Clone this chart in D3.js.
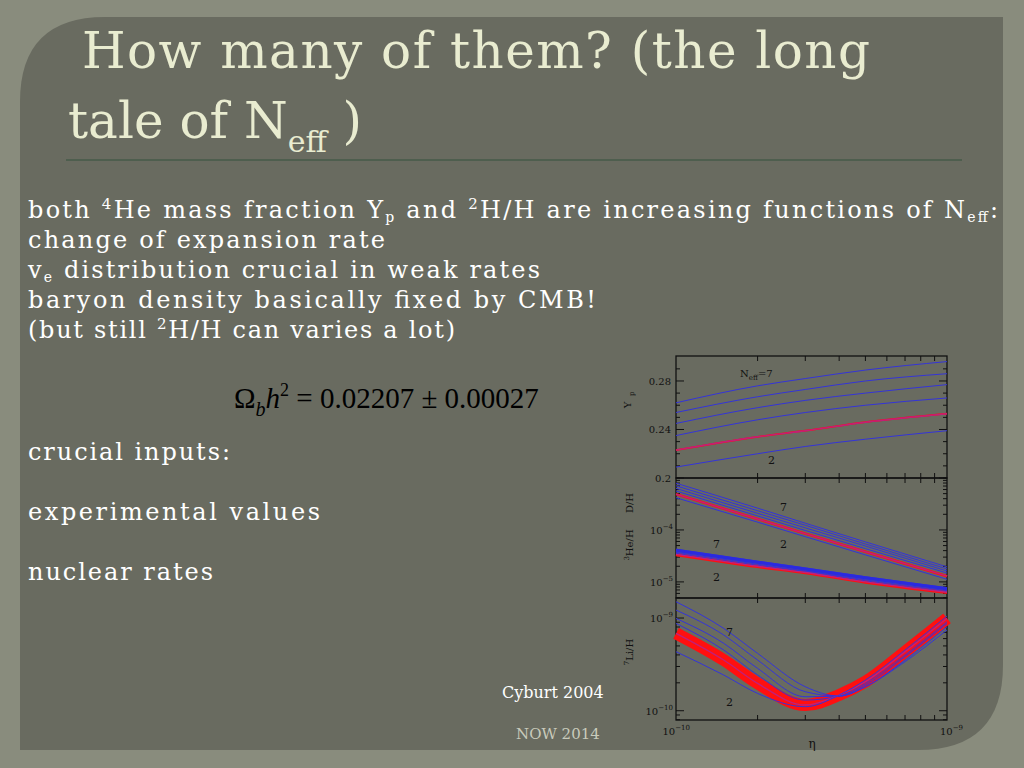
<!DOCTYPE html>
<html><head><meta charset="utf-8">
<script src="https://cdn.jsdelivr.net/npm/d3@7"></script>
<style>body{margin:0;background:#898c7d}svg{display:block}</style>
</head><body><svg id="c" width="1024" height="768"></svg>
<script>
const etas=[1,2,3,5,10];
const neffLabels=[7,6,5,4,3,2];
const yp=[[0.262,0.276,0.282,0.289,0.296],[0.254,0.267,0.273,0.280,0.286],[0.245,0.258,0.264,0.270,0.277],[0.235,0.248,0.254,0.260,0.266],[0.223,0.234,0.239,0.246,0.253],[0.209,0.220,0.226,0.232,0.239]];
const dhLog=[[-3.10,-3.58,-3.87,-4.23,-4.71],[-3.15,-3.63,-3.91,-4.27,-4.75],[-3.20,-3.68,-3.96,-4.31,-4.79],[-3.25,-3.73,-4.01,-4.36,-4.83],[-3.31,-3.79,-4.07,-4.42,-4.89],[-3.38,-3.85,-4.13,-4.48,-4.95]];
const he3Log=[[-4.37,-4.60,-4.73,-4.90,-5.11],[-4.39,-4.62,-4.75,-4.92,-5.13],[-4.41,-4.64,-4.77,-4.94,-5.15],[-4.43,-4.66,-4.79,-4.96,-5.17],[-4.45,-4.68,-4.80,-4.98,-5.19],[-4.47,-4.70,-4.82,-5.00,-5.20]];
const liEtas=[1,1.5,2,3,4,5,7,10];
const liLog=[[-8.824,-9.112,-9.381,-9.741,-9.842,-9.741,-9.471,-9.129],[-8.914,-9.183,-9.453,-9.795,-9.842,-9.741,-9.453,-9.094],[-9.004,-9.273,-9.543,-9.849,-9.842,-9.723,-9.417,-9.058],[-9.058,-9.345,-9.615,-9.885,-9.842,-9.705,-9.399,-9.040],[-9.165,-9.453,-9.705,-9.939,-9.831,-9.687,-9.363,-9.004],[-9.363,-9.615,-9.813,-9.957,-9.831,-9.669,-9.345,-8.978]];

const svg=d3.select("#c");
const p=d3.path();const L=20,T=17,R=1003,B=750,r=85;
p.moveTo(L+r,T);p.lineTo(R,T);p.lineTo(R,B-r);p.quadraticCurveTo(R,B,R-r,B);p.lineTo(L,B);p.lineTo(L,T+r);p.quadraticCurveTo(L,T,L+r,T);p.closePath();
svg.append("path").attr("d",p.toString()).attr("fill","#696b60");
const tf="'DejaVu Serif',serif";
const title=svg.append("g").attr("fill","#e9ecd0").style("font-family",tf).style("font-size","50px");
title.append("text").attr("x",82).attr("y",68).attr("textLength",788).attr("lengthAdjust","spacing").text("How many of  them? (the long");
const t2=title.append("text").attr("x",68).attr("y",138);
t2.append("tspan").text("tale of N");t2.append("tspan").attr("dy",14).style("font-size","30px").text("eff");t2.append("tspan").attr("dy",-14).text(" )");
svg.append("line").attr("x1",66).attr("x2",962).attr("y1",160).attr("y2",160).attr("stroke","#4e5e4e").attr("stroke-width",2);

const bf="'Liberation Serif','DejaVu Serif',serif";
const body=svg.append("g").attr("fill","#fff").style("font-family",tf).style("font-size","24px");
function line(y,w,parts){const t=body.append("text").attr("x",28).attr("y",y).attr("textLength",w).attr("lengthAdjust","spacing");parts.forEach(([s,k])=>{const ts=t.append("tspan").text(s);if(k==="sup")ts.attr("baseline-shift","super").style("font-size","15px");if(k==="sub")ts.attr("baseline-shift","-4").style("font-size","14px");});}
line(218,970,[["both "],["4","sup"],["He mass fraction Y"],["p","sub"],["  and "],["2","sup"],["H/H are increasing functions  of N"],["eff","sub"],[":"]]);
line(248,357,[["change of expansion rate"]]);
line(278,512,[["v"],["e","sub"],[" distribution crucial in weak  rates"]]);
line(308,568,[["baryon density basically fixed by  CMB!"]]);
line(338,427,[["(but still "],["2","sup"],["H/H can varies a lot)"]]);
line(460,202,[["crucial inputs:"]]);
line(520,292,[["experimental values"]]);
line(580,185,[["nuclear rates"]]);
const eq=svg.append("text").attr("x",234).attr("y",408).attr("fill","#000").style("font-family",bf).style("font-size","29px");
eq.append("tspan").text("Ω");eq.append("tspan").attr("dy",8).style("font-style","italic").style("font-size","20px").text("b");
eq.append("tspan").attr("dy",-8).style("font-style","italic").text("h");eq.append("tspan").attr("dy",-12).style("font-size","18px").text("2");
eq.append("tspan").attr("dy",12).text(" = 0.02207 ± 0.00027");
svg.append("text").attr("x",502).attr("y",698).attr("fill","#fff").style("font-family",tf).style("font-size","16px").text("Cyburt 2004");
svg.append("text").attr("x",516).attr("y",739).attr("fill","#c8cabb").style("font-family",tf).style("font-size","15px").text("NOW 2014");

// chart
const x0=676,x1=947;
const x=d3.scaleLog().domain([1,10]).range([x0,x1]);
const yP=d3.scaleLinear().domain([0.2,0.3006]).range([478,356]);
const yD=d3.scaleLinear().domain([-5.31,-3]).range([598,478]);
const yL=d3.scaleLinear().domain([-10.1,-8.784]).range([720,598]);
const g=svg.append("g");
const cf="'DejaVu Serif',serif";
function frame(y,top,bot){g.append("rect").attr("x",x0).attr("y",top).attr("width",x1-x0).attr("height",bot-top).attr("fill","none").attr("stroke","#111").attr("stroke-width",1.3);
 [1,2,3,4,5,6,7,8,9,10].forEach(v=>{const l=v===1||v===10?0:5;g.append("line").attr("x1",x(v)).attr("x2",x(v)).attr("y1",bot).attr("y2",bot-l).attr("stroke","#111");g.append("line").attr("x1",x(v)).attr("x2",x(v)).attr("y1",top).attr("y2",top+l).attr("stroke","#111");});}
frame(yP,356,478);frame(yD,478,598);frame(yL,598,720);
function yticks(sc,vals,major){vals.forEach(v=>{const big=major.includes(v);[x0,x1].forEach((xx,i)=>g.append("line").attr("x1",xx).attr("x2",xx+(i?-1:1)*(big?8:4)).attr("y1",sc(v)).attr("y2",sc(v)).attr("stroke","#111"));});}
yticks(yP,d3.range(0.2,0.3,0.01).map(v=>+v.toFixed(2)),[0.2,0.24,0.28]);
const dTicks=[];for(let d=-6;d<=-3;d++)for(let m=1;m<10;m++){const v=d+Math.log10(m);if(v>=-5.31&&v<=-3)dTicks.push(v);}
yticks(yD,dTicks,[-4,-5]);
const lTicks=[];for(let d=-11;d<=-9;d++)for(let m=1;m<10;m++){const v=d+Math.log10(m);if(v>=-10.1&&v<=-8.784)lTicks.push(v);}
yticks(yL,lTicks,[-9,-10]);
const lab=(xx,yy,t,anchor="end",sz=10)=>g.append("text").attr("x",xx).attr("y",yy).attr("text-anchor",anchor).style("font-family",cf).style("font-size",sz+"px").attr("fill","#111").text(t);
[[0.2,"0.2"],[0.24,"0.24"],[0.28,"0.28"]].forEach(([v,t])=>lab(671,yP(v)+4,t));
function pw(xx,yy,e){const t=g.append("text").attr("x",xx).attr("y",yy).attr("text-anchor","end").style("font-family",cf).style("font-size","10px").attr("fill","#111");t.append("tspan").text("10");t.append("tspan").attr("dy",-5).style("font-size","7px").text(e);}
pw(673,yD(-4)+4,"−4");pw(673,yD(-5)+4,"−5");pw(673,yL(-9)+4,"−9");pw(673,yL(-10)+4,"−10");
pw(690,735,"−10");pw(963,735,"−9");
lab(812,748,"η","middle",12);
const vl=(xx,yy,t,sup)=>{const tx=g.append("text").attr("transform",`translate(${xx},${yy}) rotate(-90)`).attr("text-anchor","middle").style("font-family",cf).style("font-size","10px").attr("fill","#111");if(sup){tx.append("tspan").attr("dy",-4).style("font-size","7px").text(sup);tx.append("tspan").attr("dy",4).text(t);}else tx.text(t);};
vl(631,405,"Y");g.append("text").attr("transform","translate(634,396) rotate(-90)").style("font-family",cf).style("font-size","7px").attr("fill","#111").text("p");
vl(633,503,"D/H");vl(633,545,"He/H","3");vl(633,652,"Li/H","7");

const lg=d3.line().curve(d3.curveMonotoneX);
function draw(ex,data,ys,redIdx,redW){
 data.forEach((row,i)=>{const pts=row.map((v,j)=>[x(ex[j]),ys(v)]);
  if(i===redIdx&&redW)g.append("path").attr("d",lg(pts)).attr("fill","none").attr("stroke","#ff1010").attr("stroke-width",redW);});
 data.forEach((row,i)=>{const pts=row.map((v,j)=>[x(ex[j]),ys(v)]);
  g.append("path").attr("d",lg(pts)).attr("fill","none").attr("stroke",i===redIdx?"#c0207a":"#3434d8").attr("stroke-width",i===redIdx?1.4:1);});
}
draw(etas,yp,yP,4,1.8);
draw(etas,dhLog,yD,4,2.5);
draw(etas,he3Log,yD,5,3.5);
g.append("path").attr("d",lg(etas.map((e,j)=>[x(e),yD((he3Log[0][j]+he3Log[2][j])/2)]))).attr("fill","none").attr("stroke","#2a2ae0").attr("stroke-width",3);
draw(liEtas,liLog,yL,4,12);

const nl=g.append("text").attr("x",740).attr("y",377).style("font-family",cf).style("font-size","10px").attr("fill","#111");
nl.append("tspan").text("N");nl.append("tspan").attr("dy",3).style("font-size","7px").text("eff");nl.append("tspan").attr("dy",-3).text("=7");
lab(768,464,"2","start",11);lab(780,511,"7","start",11);lab(780,548,"2","start",11);
lab(713,548,"7","start",11);lab(713,581,"2","start",11);lab(726,636,"7","start",11);lab(726,706,"2","start",11);
</script></body></html>
